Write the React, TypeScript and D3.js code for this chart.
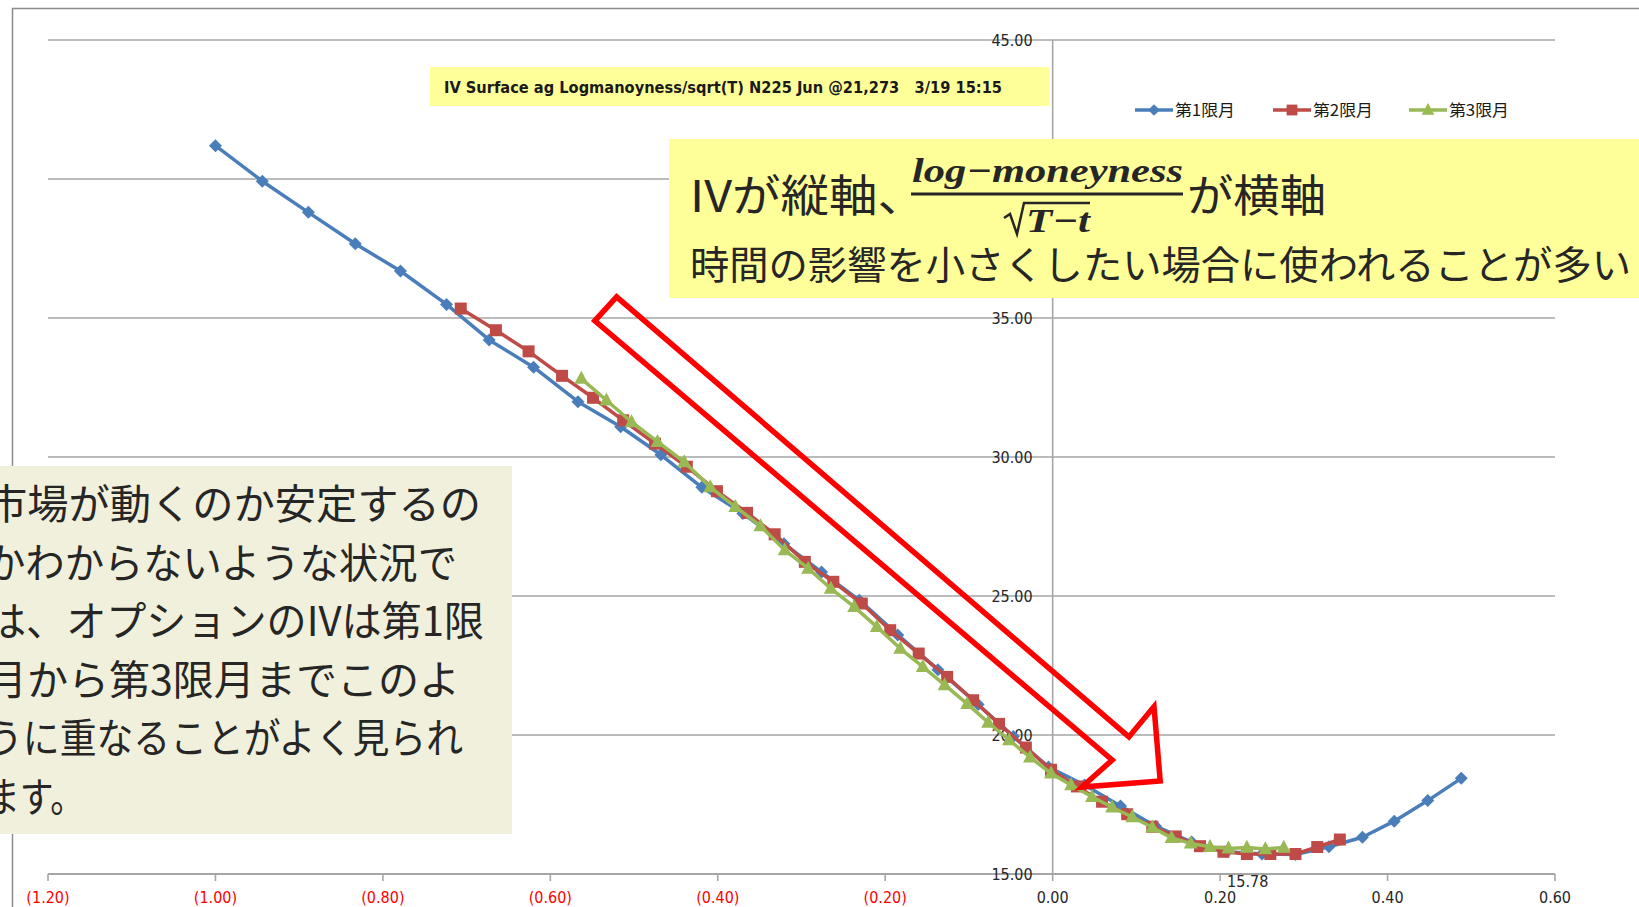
import React from 'react';
import * as d3 from 'd3';

// ---------- data ----------
const xTicks = [-1.2, -1.0, -0.8, -0.6, -0.4, -0.2, 0, 0.2, 0.4, 0.6];
const yTicks = [15, 20, 25, 30, 35, 40, 45];

const seriesNames = ['第1限月', '第2限月', '第3限月'];

const s1X = [-1.000, -0.944, -0.889, -0.833, -0.779, -0.724, -0.673, -0.620, -0.567, -0.516, -0.468, -0.419, -0.370, -0.321, -0.276, -0.231, -0.185, -0.137, -0.089, -0.047, -0.005, 0.038, 0.081, 0.123, 0.166, 0.208, 0.250, 0.290, 0.330, 0.370, 0.408, 0.448, 0.488];
const s1Y = [41.20, 39.92, 38.80, 37.67, 36.69, 35.49, 34.21, 33.23, 31.99, 31.09, 30.08, 28.91, 27.97, 26.88, 25.86, 24.85, 23.60, 22.35, 21.10, 19.95, 18.85, 18.20, 17.45, 16.72, 16.15, 15.80, 15.72, 15.70, 15.98, 16.32, 16.90, 17.64, 18.44];

const s2X = [-0.707, -0.665, -0.626, -0.586, -0.549, -0.513, -0.475, -0.437, -0.401, -0.365, -0.332, -0.296, -0.262, -0.228, -0.194, -0.160, -0.126, -0.095, -0.064, -0.032, -0.002, 0.029, 0.059, 0.089, 0.119, 0.147, 0.176, 0.204, 0.232, 0.260, 0.290, 0.316, 0.343];
const s2Y = [35.34, 34.56, 33.80, 32.92, 32.13, 31.32, 30.48, 29.65, 28.77, 27.99, 27.22, 26.23, 25.51, 24.73, 23.77, 22.93, 22.09, 21.25, 20.40, 19.55, 18.75, 18.15, 17.60, 17.15, 16.70, 16.35, 16.00, 15.80, 15.72, 15.72, 15.72, 15.97, 16.24];

const s3X = [-0.563, -0.533, -0.503, -0.472, -0.440, -0.409, -0.379, -0.349, -0.320, -0.292, -0.265, -0.237, -0.210, -0.182, -0.155, -0.129, -0.102, -0.077, -0.052, -0.027, -0.002, 0.022, 0.047, 0.071, 0.095, 0.119, 0.142, 0.165, 0.188, 0.210, 0.232, 0.254, 0.276];
const s3Y = [32.82, 32.04, 31.26, 30.55, 29.82, 28.92, 28.21, 27.52, 26.65, 25.99, 25.27, 24.61, 23.89, 23.11, 22.45, 21.80, 21.12, 20.45, 19.82, 19.20, 18.62, 18.20, 17.78, 17.40, 17.05, 16.68, 16.30, 16.10, 15.98, 15.92, 15.95, 15.90, 15.95];

const minLabel = '15.78';
const minLabelX = 0.2;

const titleText = 'IV Surface ag Logmanoyness/sqrt(T) N225 Jun @21,273   3/19 15:15';
const noteLines = [
  '市場が動くのか安定するの',
  'かわからないような状況で',
  'は、オプションのIVは第1限',
  '月から第3限月までこのよ',
  'うに重なることがよく見られ',
  'ます。',
];
const noteWidths = [495, 471, 498, 474, 477, 98];

// red arrow annotation, in data units
const arrowPts: [number, number][] = [
  [-0.5208, 35.76],
  [0.0910, 19.93],
  [0.1210, 21.02],
  [0.1285, 18.35],
  [0.0349, 18.13],
  [0.0711, 19.10],
  [-0.5469, 34.90],
];

// ---------- styles ----------
const W = 1639;
const H = 907;
const colors = ['#4A7EBB', '#BE4B48', '#98B954'];
const numFont = "'Liberation Sans Narrow', 'DejaVu Sans Condensed', 'Liberation Sans', sans-serif";
const jpFont = "'Noto Sans CJK JP', 'Noto Sans', sans-serif";
const mathFont = "'Liberation Serif', 'DejaVu Serif', serif";

function fmt(v: number) {
  const s = Math.abs(v).toFixed(2);
  return v < 0 ? `(${s})` : s;
}

function Marker({ kind, x, y, color, k = 1 }: { kind: number; x: number; y: number; color: string; k?: number }) {
  if (kind === 0) {
    const r = 6.5 * k;
    return <path d={`M${x},${y - r}L${x + r},${y}L${x},${y + r}L${x - r},${y}Z`} fill={color} />;
  }
  if (kind === 1) {
    const s = 12 * k;
    return <rect x={x - s / 2} y={y - s / 2} width={s} height={s} fill={color} />;
  }
  const h = 13 * k;
  const w = 14 * k;
  return <path d={`M${x},${y - h * 0.6}L${x + w / 2},${y + h * 0.4}L${x - w / 2},${y + h * 0.4}Z`} fill={color} />;
}

export default function App() {
  const x = d3.scaleLinear().domain([-1.2, 0.6]).range([48, 1555]);
  const y = d3.scaleLinear().domain([15, 45]).range([874, 40]);

  const series = [
    { xs: s1X, ys: s1Y },
    { xs: s2X, ys: s2Y },
    { xs: s3X, ys: s3Y },
  ];

  const line = d3
    .line<[number, number]>()
    .x((d) => x(d[0]))
    .y((d) => y(d[1]));

  const arrowPath =
    'M' + arrowPts.map((p) => `${x(p[0]).toFixed(1)},${y(p[1]).toFixed(1)}`).join('L') + 'Z';

  const legendX = [1135, 1273, 1409];

  return (
    <svg
      width={W}
      height={H}
      style={{ position: 'fixed', left: 0, top: 0, background: '#fff' }}
    >
      {/* chart border */}
      <rect x={12.5} y={8.5} width={W + 20} height={H + 20} fill="none" stroke="#8c8c8c" strokeWidth={1.5} />

      {/* gridlines */}
      {yTicks.map((t) => (
        <line key={t} x1={x(-1.2)} x2={x(0.6)} y1={y(t)} y2={y(t)} stroke="#a6a6a6" strokeWidth={t === 15 ? 2 : 1.6} />
      ))}
      {/* y axis (at x = 0) */}
      <line x1={x(0)} x2={x(0)} y1={y(45)} y2={y(15)} stroke="#a6a6a6" strokeWidth={1.6} />
      {/* x ticks */}
      {xTicks.map((t) => (
        <line key={t} x1={x(t)} x2={x(t)} y1={y(15)} y2={y(15) + 7} stroke="#a6a6a6" strokeWidth={1.6} />
      ))}

      {/* y labels */}
      {yTicks.map((t) => (
        <text key={t} x={x(0) - 20} y={y(t) + 5.5} textAnchor="end" fontFamily={numFont} fontSize={16} fill="#262626">
          {t.toFixed(2)}
        </text>
      ))}
      {/* x labels */}
      {xTicks.map((t) => (
        <text
          key={t}
          x={x(t)}
          y={y(15) + 29}
          textAnchor="middle"
          fontFamily={numFont}
          fontSize={16}
          fill={t < 0 ? '#FF0000' : '#262626'}
        >
          {fmt(t)}
        </text>
      ))}
      <text x={x(minLabelX) + 7} y={y(15) + 13} fontFamily={numFont} fontSize={16} fill="#262626">
        {minLabel}
      </text>

      {/* series */}
      {series.map((s, i) => {
        const pts: [number, number][] = s.xs.map((v, j) => [v, s.ys[j]]);
        return (
          <g key={i}>
            <path d={line(pts) || ''} fill="none" stroke={colors[i]} strokeWidth={3.5} strokeLinejoin="round" />
            {pts.map((p, j) => (
              <Marker key={j} kind={i} x={x(p[0])} y={y(p[1])} color={colors[i]} />
            ))}
          </g>
        );
      })}

      {/* title box */}
      <rect x={430} y={67} width={619} height={39} fill="#FFFF99" />
      <text x={444} y={93} fontFamily={numFont} fontWeight="bold" fontSize={16} fill="#1a1a1a" textLength={558} lengthAdjust="spacingAndGlyphs" xmlSpace="preserve">
        {titleText}
      </text>

      {/* legend */}
      {seriesNames.map((n, i) => (
        <g key={n}>
          <line x1={legendX[i]} x2={legendX[i] + 38} y1={110} y2={110} stroke={colors[i]} strokeWidth={3.5} />
          <Marker kind={i} x={legendX[i] + 19} y={110} color={colors[i]} k={0.9} />
          <text x={legendX[i] + 40} y={116} fontFamily={jpFont} fontSize={16} fill="#1a1a1a" textLength={60} lengthAdjust="spacingAndGlyphs">
            {n}
          </text>
        </g>
      ))}

      {/* yellow callout */}
      <rect x={669} y={139} width={980} height={159} fill="#FFFF99" />
      <text x={690} y={212} fontFamily={jpFont} fontSize={44} fill="#262626" textLength={236} lengthAdjust="spacingAndGlyphs">
        IVが縦軸、
      </text>
      <text x={912} y={182} fontFamily={mathFont} fontStyle="italic" fontWeight="bold" fontSize={34} fill="#262626" textLength={271} lengthAdjust="spacingAndGlyphs">
        log−moneyness
      </text>
      <line x1={911} x2={1183} y1={194} y2={194} stroke="#262626" strokeWidth={3} />
      <path d="M1004,218 L1010,214 L1017,234 L1024,203 L1090,203" fill="none" stroke="#262626" strokeWidth={2.5} />
      <text x={1026} y={232} fontFamily={mathFont} fontStyle="italic" fontWeight="bold" fontSize={34} fill="#262626" textLength={64} lengthAdjust="spacingAndGlyphs">
        T−t
      </text>
      <text x={1187} y={212} fontFamily={jpFont} fontSize={44} fill="#262626" textLength={139} lengthAdjust="spacingAndGlyphs">
        が横軸
      </text>
      <text x={690} y={279} fontFamily={jpFont} fontSize={39} fill="#262626" textLength={941} lengthAdjust="spacingAndGlyphs">
        時間の影響を小さくしたい場合に使われることが多い
      </text>

      {/* red arrow */}
      <path d={arrowPath} fill="none" stroke="#FF0000" strokeWidth={5.5} strokeLinejoin="miter" />

      {/* left note box */}
      <rect x={0} y={466} width={512} height={368} fill="#F1F0DC" />
      {noteLines.map((l, i) => (
        <text
          key={i}
          x={-14}
          y={519 + i * 58.6}
          fontFamily={jpFont}
          fontSize={41}
          fill="#262626"
          textLength={noteWidths[i]}
          lengthAdjust="spacingAndGlyphs"
        >
          {l}
        </text>
      ))}
    </svg>
  );
}
